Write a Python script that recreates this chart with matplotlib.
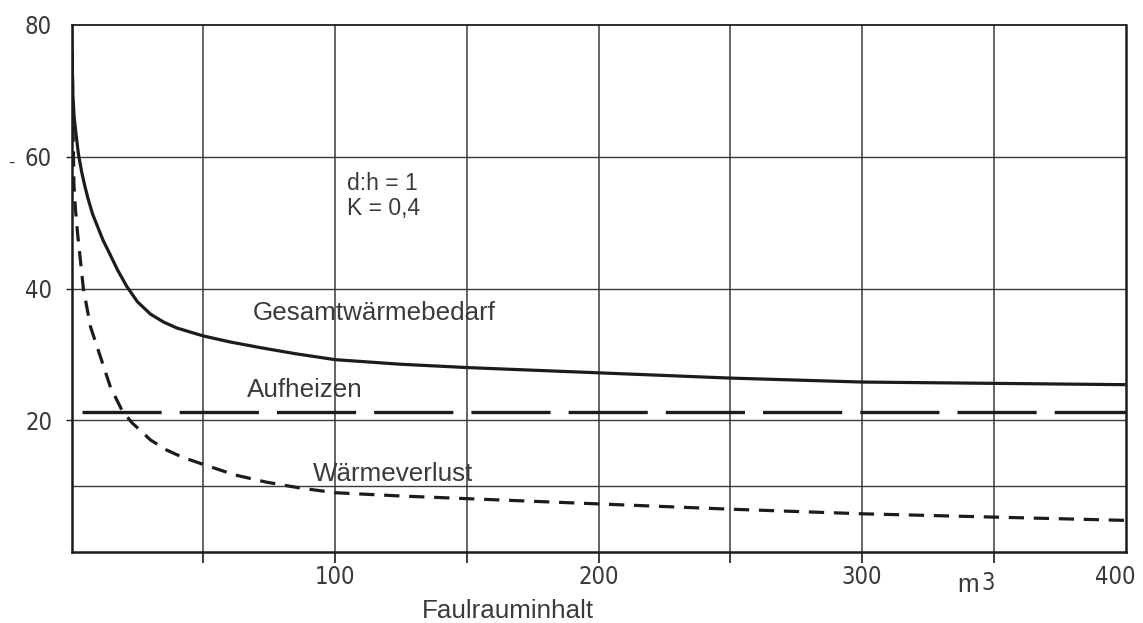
import matplotlib
matplotlib.use("Agg")
import matplotlib.pyplot as plt
from matplotlib import font_manager as fm
from matplotlib.ticker import FixedLocator, NullFormatter

# --- data -------------------------------------------------------------
# Faulrauminhalt (m3) vs. Wärmebedarf
x_gesamt = [0.1, 0.2, 0.45, 1.0, 1.7, 2.6, 3.8, 5.1, 6.3, 8, 10, 12, 14.6,
            17.5, 21, 25, 30, 35, 40, 50, 60, 72, 85, 100, 125, 150, 175,
            200, 250, 300, 350, 400]
y_gesamt = [80, 76, 70, 66, 63.5, 60.5, 57.8, 55.5, 53.6, 51.3, 49.3, 47.3,
            45.2, 42.8, 40.3, 38.0, 36.1, 34.9, 34.0, 32.8, 31.9, 31.0,
            30.1, 29.2, 28.5, 28.0, 27.6, 27.2, 26.4, 25.8, 25.6, 25.4]

x_aufheizen = [4, 400]
y_aufheizen = [21.2, 21.2]

x_verlust = [0.3, 0.6, 0.9, 1.5, 2.3, 4.5, 7.2, 11, 14.8, 19.3, 23, 26, 30,
             36, 42, 50, 62, 74, 87, 100, 125, 150, 200, 250, 300, 350, 400]
y_verlust = [76, 64, 56, 52, 48.4, 40, 34.2, 29.6, 25, 21.4, 19.6, 18.5, 17,
             15.5, 14.4, 13.3, 11.7, 10.6, 9.7, 9.0, 8.5, 8.1, 7.3, 6.5, 5.8,
             5.3, 4.8]

x_major = [100, 200, 300, 400]
x_minor = [50, 150, 250, 350]
x_grid = [50, 100, 150, 200, 250, 300, 350]
y_major = [20, 40, 60, 80]
y_grid = [10, 20, 40, 60]

# --- fonts ------------------------------------------------------------
# narrow digits for the scales; fall back to a condensed or smaller face
_fonts = fm.fontManager.ttflist
_names = {f.name for f in _fonts}
if "Liberation Sans Narrow" in _names:
    TICK_PROPS = dict(family="Liberation Sans Narrow", size=18.5)
elif any(f.name == "DejaVu Sans" and "condensed" in str(f.stretch)
         for f in _fonts):
    TICK_PROPS = dict(family="DejaVu Sans", stretch="condensed", size=17)
else:
    TICK_PROPS = dict(family="Liberation Sans", size=15.5)
TEXT_FONT = ["Liberation Sans", "DejaVu Sans"]

# --- styling ----------------------------------------------------------
plt.rcParams["lines.scale_dashes"] = False
LINE_C = "#1c1c1c"
GRID_C = "#3a3a3a"
TEXT_C = "#3a3a3a"

W, H = 1143, 623
fig = plt.figure(figsize=(W / 100, H / 100), dpi=100, facecolor="white")
ax = fig.add_axes([71.5 / W, (H - 552) / H, (1125.5 - 71.5) / W, (552 - 25) / H])
ax.set_xlim(0, 400)
ax.set_ylim(0, 80)

for s in ["left", "bottom", "right", "top"]:
    ax.spines[s].set_linewidth(1.8)
    ax.spines[s].set_color(LINE_C)
ax.spines["top"].set_linewidth(1.3)

for gx in x_grid:
    ax.axvline(gx, color=GRID_C, lw=1.1, zorder=1)
for gy in y_grid:
    ax.axhline(gy, color=GRID_C, lw=1.0, zorder=1)

# curves
ax.plot(x_gesamt, y_gesamt, color=LINE_C, lw=2.3, solid_capstyle="butt",
        solid_joinstyle="round", zorder=3)
ax.plot(x_aufheizen, y_aufheizen, color=LINE_C, lw=2.4,
        dashes=(57, 13), zorder=3)
ax.plot(x_verlust, y_verlust, color=LINE_C, lw=2.3,
        dashes=(11, 7), zorder=3)

# ticks
ax.xaxis.set_major_locator(FixedLocator(x_major))
ax.xaxis.set_minor_locator(FixedLocator(x_minor))
ax.xaxis.set_minor_formatter(NullFormatter())
ax.set_xticklabels([str(v) for v in x_major])
ax.tick_params(axis="x", which="both", direction="out", length=8,
               width=1.2, color=LINE_C, pad=1.5)
ax.tick_params(axis="x", which="major", labelcolor=TEXT_C)
# the 400 tick sits on the frame corner; draw it without the stub
ax.xaxis.get_major_ticks()[-1].tick1line.set_visible(False)

ax.yaxis.set_major_locator(FixedLocator(y_major))
ax.set_yticklabels([str(v) for v in y_major])
ax.tick_params(axis="y", which="major", direction="out", length=4,
               width=1.0, color=LINE_C, pad=10, labelcolor=TEXT_C)
ax.yaxis.get_major_ticks()[-1].tick1line.set_visible(False)

for lab in ax.get_xticklabels() + ax.get_yticklabels():
    lab.set_fontproperties(fm.FontProperties(**TICK_PROPS))
ax.get_xticklabels()[-1].set_horizontalalignment("center")

# annotations inside the chart
ax.text(104.6, 57.7, "d:h = 1\nK = 0,4", ha="left", va="top",
        fontsize=16.5, family=TEXT_FONT, color=TEXT_C, linespacing=1.12)
ax.text(68.9, 35.2, "Gesamtwärmebedarf", ha="left", va="baseline",
        fontsize=18.7, family=TEXT_FONT, color=TEXT_C)
ax.text(66.6, 23.5, "Aufheizen", ha="left", va="baseline",
        fontsize=18.7, family=TEXT_FONT, color=TEXT_C)
ax.text(91.6, 10.8, "Wärmeverlust", ha="left", va="baseline",
        fontsize=18.7, family=TEXT_FONT, color=TEXT_C)

# unit and axis title below the frame
fig.text(957 / W, (H - 592) / H, "m", ha="left", va="baseline",
         fontsize=18.7, family=TEXT_FONT, color=TEXT_C)
fig.text(981 / W, (H - 590) / H, "3", ha="left", va="baseline",
         color=TEXT_C, fontproperties=fm.FontProperties(**TICK_PROPS))
fig.text(422 / W, (H - 618) / H, "Faulrauminhalt", ha="left", va="baseline",
         fontsize=18.7, family=TEXT_FONT, color=TEXT_C)
fig.text(8 / W, (H - 163) / H, "-", ha="left", va="center",
         fontsize=14, family=TEXT_FONT, color=TEXT_C)

fig.canvas.draw()
# keep the last x label inside the figure, slightly left of its tick as drawn
lab400 = ax.get_xticklabels()[-1]
bb = lab400.get_window_extent()
if bb.x1 > W - 6:
    lab400.set_horizontalalignment("right")
    lab400.set_x(400)
    from matplotlib.transforms import offset_copy
    lab400.set_transform(offset_copy(lab400.get_transform(), fig=fig,
                                     x=(1135 - 1125.5) * 72 / 100, y=0,
                                     units="points"))

fig.savefig("out.png", dpi=100, facecolor="white")
